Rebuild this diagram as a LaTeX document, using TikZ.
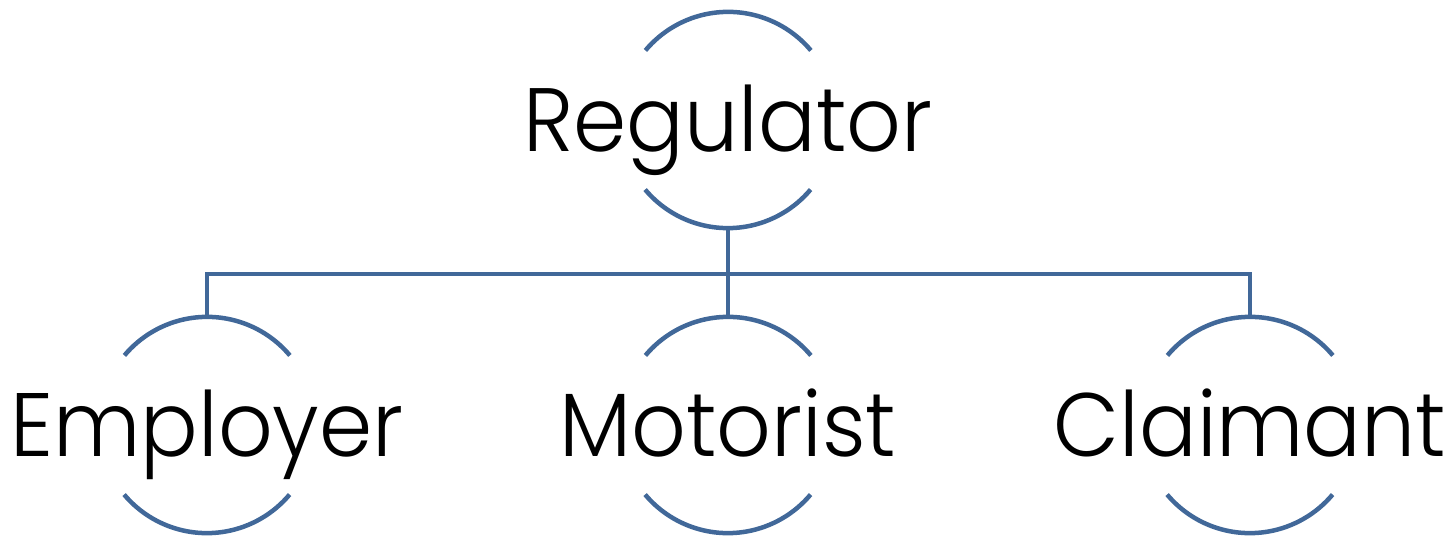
\documentclass[tikz,border=0pt]{standalone}
\usepackage{fontspec}
\setmainfont{Poppins Light}
\usetikzlibrary{calc}
\definecolor{civic}{RGB}{65,104,153}
\newcommand{\enttext}[1]{\makebox[0pt]{\scalebox{0.95}[1]{#1}}}
\begin{document}
\begin{tikzpicture}[x=1pt,y=1pt,
  ent/.style={circle,minimum size=216pt,inner sep=0pt,
    text height=63pt,text depth=0pt,
    font=\fontsize{90}{100}\selectfont},
  arcline/.style={draw=civic,line width=4.5pt},
  conn/.style={draw=civic,line width=4.5pt}]
\useasboundingbox (0,0) rectangle (1449,-537);
\node[ent] (reg) at (728,-120) {\enttext{Regulator}};
\node[ent] (emp) at (207,-425) {\enttext{Employer}};
\node[ent] (mot) at (728,-425) {\enttext{Motorist}};
\node[ent] (cla) at (1250,-425) {\enttext{Claimant}};
\foreach \n in {reg,emp,mot,cla}{
  \draw[arcline] (\n.40) arc[start angle=40,end angle=140,radius=108pt];
  \draw[arcline] (\n.220) arc[start angle=220,end angle=320,radius=108pt];
}
\coordinate (jn) at ($(reg.south)+(0,-46)$);
\draw[conn] (reg.south) -- (jn);
\draw[conn] (jn) -| (emp.north);
\draw[conn] (jn) -| (cla.north);
\draw[conn] (jn) -- (mot.north);
\end{tikzpicture}
\end{document}
